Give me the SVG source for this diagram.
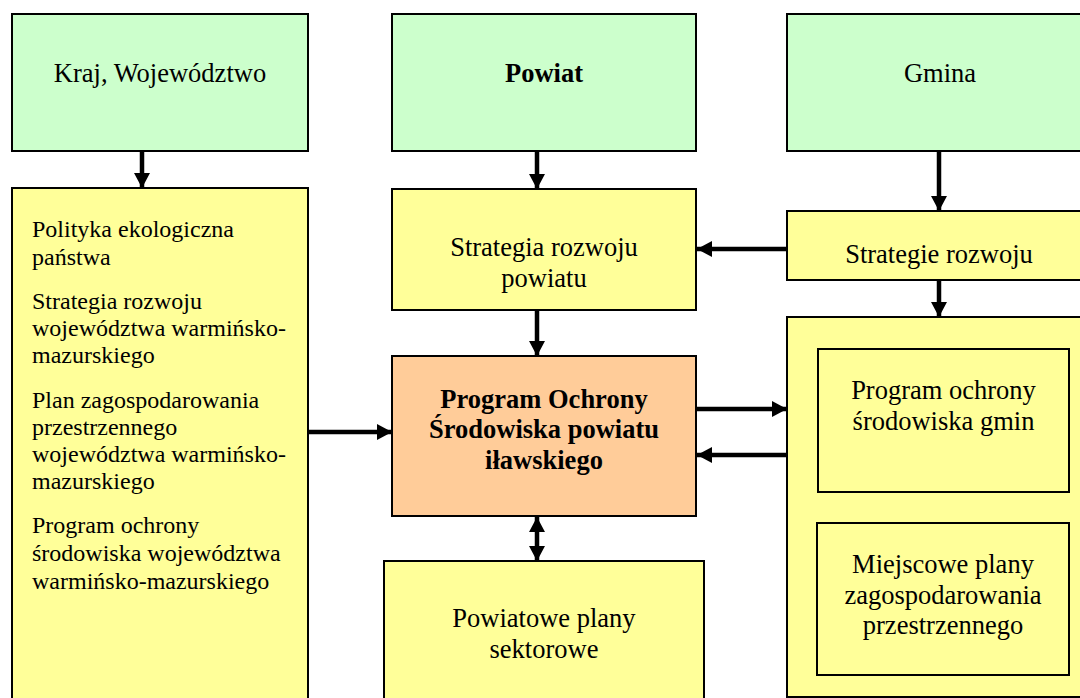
<svg xmlns="http://www.w3.org/2000/svg" width="1080" height="698" viewBox="0 0 1080 698">
<defs>
<style>
.box{stroke:#000;stroke-width:2}
.g{fill:#CCFFCC}
.y{fill:#FFFF99}
.o{fill:#FFCC99}
.t{font-family:"Liberation Serif","Times New Roman",serif;font-size:26.5px;fill:#000;text-anchor:middle}
.b{font-weight:bold}
.l{font-family:"Liberation Serif","Times New Roman",serif;font-size:24px;fill:#000}
.c{stroke:#000;stroke-width:4.5;fill:none}
</style>
<marker id="ah" markerUnits="userSpaceOnUse" markerWidth="16" markerHeight="16" refX="15" refY="8" orient="auto">
<path d="M0,0 L15,8 L0,16 z" fill="#000"/>
</marker>
<marker id="as" markerUnits="userSpaceOnUse" markerWidth="16" markerHeight="16" refX="15" refY="8" orient="auto-start-reverse">
<path d="M0,0 L15,8 L0,16 z" fill="#000"/>
</marker>
</defs>
<rect width="1080" height="698" fill="#fff"/>

<g id="kraj">
<rect class="box g" x="12" y="14" width="296" height="137"/>
<text class="t" x="160" y="82">Kraj, Województwo</text>
</g>
<g id="powiat">
<rect class="box g" x="392" y="14" width="304" height="137"/>
<text class="t b" x="544" y="82">Powiat</text>
</g>
<g id="gmina">
<rect class="box g" x="787" y="14" width="300" height="137"/>
<text class="t" x="940" y="82">Gmina</text>
</g>

<g id="dokumenty-kraj">
<rect class="box y" x="12" y="188" width="296" height="520"/>
<text class="l" x="32"><tspan x="32" y="237">Polityka ekologiczna</tspan><tspan x="32" y="265">państwa</tspan><tspan x="32" y="309">Strategia rozwoju</tspan><tspan x="32" y="336">województwa warmińsko-</tspan><tspan x="32" y="363">mazurskiego</tspan><tspan x="32" y="408">Plan zagospodarowania</tspan><tspan x="32" y="435">przestrzennego</tspan><tspan x="32" y="462">województwa warmińsko-</tspan><tspan x="32" y="489">mazurskiego</tspan><tspan x="32" y="533">Program ochrony</tspan><tspan x="32" y="561">środowiska województwa</tspan><tspan x="32" y="589">warmińsko-mazurskiego</tspan></text>
</g>

<g id="strategia-powiatu">
<rect class="box y" x="392" y="189" width="304" height="121"/>
<text class="t"><tspan x="544" y="256">Strategia rozwoju</tspan><tspan x="544" y="287">powiatu</tspan></text>
</g>

<g id="strategie-gmin">
<rect class="box y" x="787" y="211" width="300" height="69"/>
<text class="t" x="939" y="263">Strategie rozwoju</text>
</g>

<g id="program-powiatu">
<rect class="box o" x="392" y="356" width="304" height="160"/>
<text class="t b"><tspan x="544" y="408">Program Ochrony</tspan><tspan x="544" y="438">Środowiska powiatu</tspan><tspan x="544" y="469">iławskiego</tspan></text>
</g>

<g id="plany-sektorowe">
<rect class="box y" x="384" y="561" width="320" height="150"/>
<text class="t"><tspan x="544" y="627">Powiatowe plany</tspan><tspan x="544" y="658">sektorowe</tspan></text>
</g>

<g id="dokumenty-gmin">
<rect class="box y" x="787" y="317" width="300" height="380"/>
</g>
<g id="program-gmin">
<rect class="box y" x="818" y="349" width="251" height="143"/>
<text class="t"><tspan x="943.5" y="399">Program ochrony</tspan><tspan x="943.5" y="430">środowiska gmin</tspan></text>
</g>
<g id="plany-miejscowe">
<rect class="box y" x="817" y="523" width="252" height="152"/>
<text class="t"><tspan x="943" y="573">Miejscowe plany</tspan><tspan x="943" y="604">zagospodarowania</tspan><tspan x="943" y="634">przestrzennego</tspan></text>
</g>

<g id="connectors">
<line class="c" x1="142" y1="152" x2="142" y2="188" marker-end="url(#ah)"/>
<line class="c" x1="537" y1="152" x2="537" y2="189" marker-end="url(#ah)"/>
<line class="c" x1="939" y1="152" x2="939" y2="211" marker-end="url(#ah)"/>
<line class="c" x1="786" y1="249" x2="697" y2="249" marker-end="url(#ah)"/>
<line class="c" x1="537" y1="311" x2="537" y2="356" marker-end="url(#ah)"/>
<line class="c" x1="939" y1="281" x2="939" y2="317" marker-end="url(#ah)"/>
<line class="c" x1="309" y1="432" x2="392" y2="432" marker-end="url(#ah)"/>
<line class="c" x1="697" y1="409" x2="787" y2="409" marker-end="url(#ah)"/>
<line class="c" x1="786" y1="455" x2="697" y2="455" marker-end="url(#ah)"/>
<line class="c" x1="537" y1="517" x2="537" y2="561" marker-start="url(#as)" marker-end="url(#as)"/>
</g>
</svg>
